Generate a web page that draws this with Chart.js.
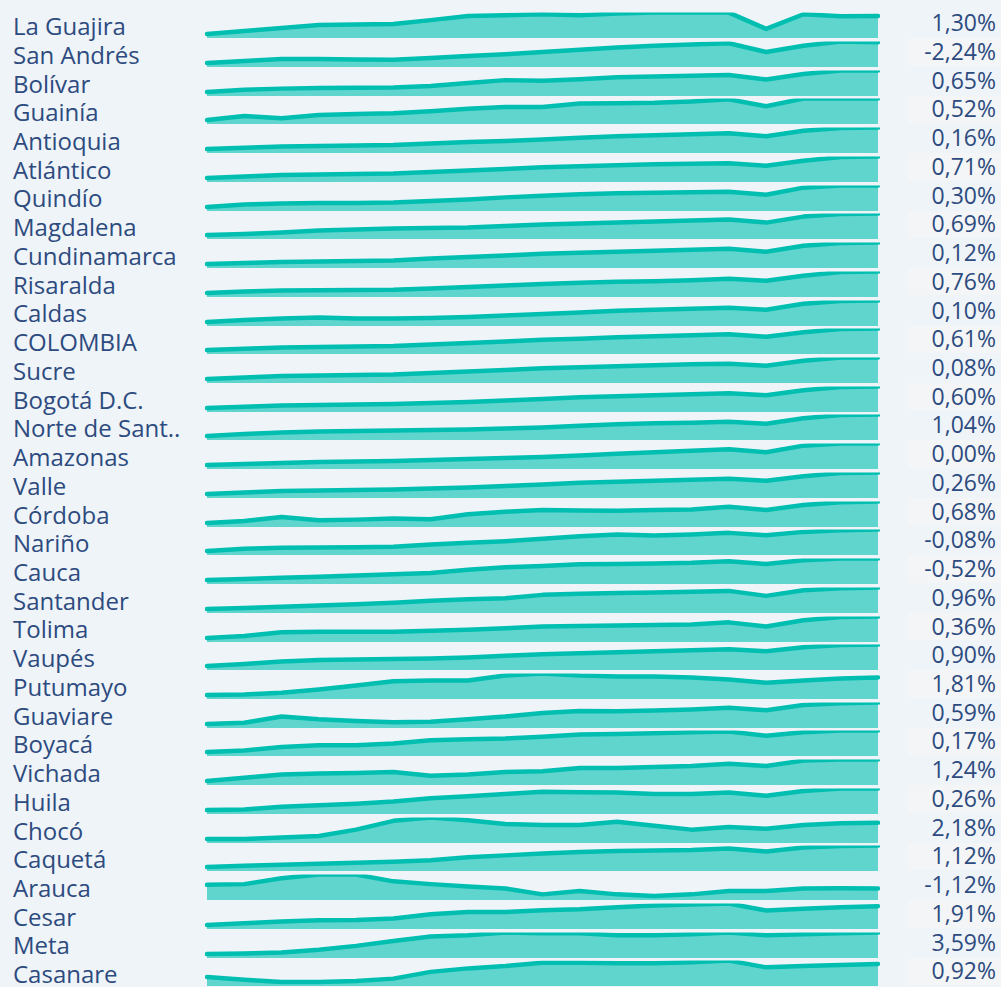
<!DOCTYPE html>
<html>
<head>
<meta charset="utf-8">
<script src="https://cdn.jsdelivr.net/npm/chart.js@4/dist/chart.umd.min.js"></script>
<style>
  html, body { margin: 0; padding: 0; background: #eff4f9; }
  body { width: 1001px; height: 987px; position: relative; overflow: hidden;
         font-family: "Open Sans", sans-serif; color: #2d4b7e; }
  .lbl { position: absolute; left: 13px; font-size: 24px; line-height: 29px; white-space: nowrap; }
  .pct { position: absolute; right: 5px; font-size: 23px; line-height: 29px; text-align: right; }
  .box { position: absolute; left: 908px; right: 0; background: #f3f5f7; }
  canvas { position: absolute; left: 203px; }
</style>
</head>
<body>
<script>
const years = ["2005","2006","2007","2008","2009","2010","2011","2012","2013","2014",
               "2015","2016","2017","2018","2019","2020","2021","2022","2023"];

const departments = ["La Guajira","San Andrés","Bolívar","Guainía","Antioquia","Atlántico","Quindío",
  "Magdalena","Cundinamarca","Risaralda","Caldas","COLOMBIA","Sucre","Bogotá D.C.","Norte de Sant..",
  "Amazonas","Valle","Córdoba","Nariño","Cauca","Santander","Tolima","Vaupés","Putumayo","Guaviare",
  "Boyacá","Vichada","Huila","Chocó","Caquetá","Arauca","Cesar","Meta","Casanare"];

const changes = [1.30,-2.24,0.65,0.52,0.16,0.71,0.30,0.69,0.12,0.76,0.10,0.61,0.08,0.60,1.04,
  0.00,0.26,0.68,-0.08,-0.52,0.96,0.36,0.90,1.81,0.59,0.17,1.24,0.26,2.18,1.12,-1.12,1.91,3.59,0.92];

// relative level per year, one row per department (each sparkline has its own scale)
const levels = [
  [0,3.1,6.3,9.3,9.7,10.3,14.3,18.6,19.3,20.3,19.3,21,22,22,22,5.3,20.3,18.3,18.6],
  [0,2,4,4,3.5,3.3,5,6.7,8.5,10.6,12.8,15,16.6,17.8,19,10.6,16.6,20.6,20],
  [0,2.3,3.4,4,4.2,4.4,6,9,11.7,11,12.5,14.4,15.3,16,16.7,12.4,17.7,21,21],
  [0,4,1.7,5,5.8,6.5,8.5,11,12.7,12.7,16,16.3,16.7,18,20,13.3,20.7,20.7,20.7],
  [0,1.3,2.5,3,3.5,4,5.5,7,8,9.5,11,12.5,13.5,14.5,15.5,12.5,18,20.5,21],
  [0,1.5,3,3.5,4,4.5,6,7.5,9,10.5,11.5,12.5,13.5,14,14.5,12,17,20.5,21],
  [0,2.5,3.5,4,4,4.5,6,7.5,9.5,11,12.5,13.5,14,14.5,15,12,19,21,21],
  [0,1,2.5,4.5,5.5,6.5,7,7.5,9,10.5,11.5,12.5,13.5,14.5,15.5,12.5,18.5,21,21.5],
  [0,1,2,2.5,3,3.5,5.5,7,8.5,10,11,12,13,14,15,12,18,20.5,21],
  [0,1.5,2.5,2.8,3,3.2,4.5,6,7.5,9,10,11,11.5,12.5,14,12,17,20.5,21],
  [0,2,3.5,4.5,3.5,3.5,4,5,6.5,8,9.5,11,12,13,14,12,18,20.5,21],
  [0,1.3,2.5,3,3.5,4,5.5,7,8.5,10,11,12.5,13.5,14.5,15.5,13,17.5,20.5,21],
  [0,1.5,3,3.5,4,4.5,6,7.5,9,10.5,11.5,12.5,13.5,14.5,15,13,18,21,21],
  [0,1.3,2.5,3,3.5,4,5,6,7.5,9,10.5,11.5,12.5,13.5,14.5,12.5,17.5,20.5,21],
  [0,2,3.5,4.5,5,5.5,6,6.5,7.5,8.5,10,11.5,12.5,13,14,12,17.5,20.5,21],
  [0,1,2,3,3.5,4,5,6,7,8,9.5,11,12.5,14,15.5,12.5,19,21,21],
  [0,1.5,3,3.5,4,4.5,5.5,6.5,8,9.5,11,12,13,14,15,13,17.5,20.5,21],
  [0,2,6,2.7,3.4,4.4,3.7,8.7,11,12.7,12.3,12,12.8,13.4,16,12.7,17.7,20.4,21],
  [0,2.4,3.4,3.7,4,4.4,6.7,8.4,10,12.4,15,16.7,15.7,16.7,18.4,16,19.4,21,21.7],
  [0,1.2,2.4,3.5,4.7,6,7.5,10.7,13.4,14.7,16.5,16.7,17.3,18,19.7,16.7,20.7,22.4,22.4],
  [0,1.2,2.4,3.6,5,6.5,8.5,10,11,14.3,15.5,16.3,16.8,17.5,18.3,13.3,19,21,21.6],
  [0,2,5.5,6,6,6,7,8,9.5,11,11.5,12,12.5,13,15,11,17,20,20.5],
  [0,2,4.5,6,6.5,7,7.5,8.5,10,11.5,12.5,13.5,14.5,15.5,16.5,14.5,18.5,20.5,21],
  [0,0.7,2.4,5.7,9.7,14,14.7,14.7,19.7,21.7,19.7,18.7,18.7,17.7,15.7,12.4,14.7,16.7,17.7],
  [0,1.3,7.3,4.7,3,1.7,2.3,4.7,7.3,10.7,12.5,12.3,13,14,15.7,13.3,18.3,20,20.7],
  [0,1.6,5,6.6,6.6,8.3,11.6,12.6,13.3,15,17.3,17.8,18.5,19.3,20,16,19.3,21,21],
  [0,3.4,6.7,7.7,8.4,9.4,5.4,6.7,9.4,10,13.4,13.4,14.4,15.4,17.7,15.4,21,22,22],
  [0,0.7,3.4,5,6.7,9,12.4,14.4,16.7,19,18.7,18.4,16.7,16.7,18.4,15,20,22.4,22.4],
  [0,0,1.7,3.3,10,19.3,22.7,20,16,15,15,18.3,14,10,12.7,11,15,16.7,17.3],
  [0,1.3,2.5,3.5,4.5,5.5,7,10,12,14,15.5,16.5,17,17.5,19,16,20,21.5,22],
  [11,11.7,17.4,21,21,14.4,11.7,9.4,7.4,1.7,5,1.7,0,1.7,5,5,7.4,7.7,7.4],
  [0,2,3.7,5,5.3,6.7,11,13.3,13.3,15.3,16.3,18.3,20,21,22,15,16.7,18.3,19.3],
  [0,0.7,1.7,4.3,8.3,13.3,17.7,19,21.7,21,21,19,19,20,21.7,19,20,21,21.7],
  [5,2.4,0,0,1,3.4,10,13.4,15.7,19,19,18.4,18.4,19.4,21,14.4,15.7,16.7,17.7]
];

const LINE = "#00bfb1";
const FILL = "#60d5ce";
const PITCH = 28.73;
const FIRST_BOTTOM = 38.2;

departments.forEach((name, i) => {
  const bottom = FIRST_BOTTOM + PITCH * i;

  if (i % 2 === 1) {
    const box = document.createElement("div");
    box.className = "box";
    box.style.top = (bottom - PITCH) + "px";
    box.style.height = (PITCH - 1.3) + "px";
    document.body.appendChild(box);
  }

  const lbl = document.createElement("div");
  lbl.className = "lbl";
  lbl.style.top = (bottom - 27.1) + "px";
  lbl.textContent = name;
  document.body.appendChild(lbl);

  const pct = document.createElement("div");
  pct.className = "pct";
  pct.style.top = (bottom - 30) + "px";
  pct.textContent = changes[i].toFixed(2).replace(".", ",") + "%";
  document.body.appendChild(pct);

  const cv = document.createElement("canvas");
  cv.width = 679;
  cv.height = 29;
  cv.style.top = Math.round(bottom - 29) + "px";
  document.body.appendChild(cv);

  const vals = levels[i];
  const lo = Math.min(...vals), hi = Math.max(...vals);

  new Chart(cv, {
    type: "line",
    data: {
      labels: years,
      datasets: [{
        data: vals,
        borderColor: LINE,
        backgroundColor: FILL,
        borderWidth: 4.5,
        fill: "start",
        pointRadius: 0,
        tension: 0,
        borderCapStyle: "round",
        borderJoinStyle: "round"
      }]
    },
    options: {
      responsive: false,
      animation: false,
      devicePixelRatio: 1,
      layout: { padding: { left: 4, right: 4, top: 3.6, bottom: 0 } },
      plugins: { legend: { display: false }, tooltip: { enabled: false } },
      scales: {
        x: { display: false, offset: false },
        y: { display: false, min: lo - 0.181 * (hi - lo), max: hi }
      }
    }
  });
});
</script>
</body>
</html>
